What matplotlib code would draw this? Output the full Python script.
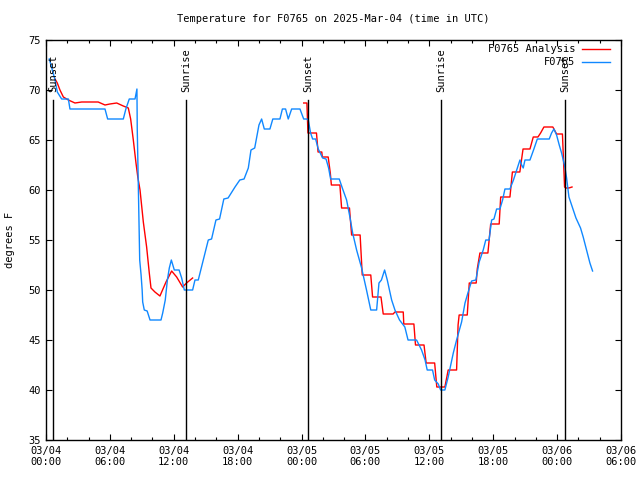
import matplotlib
matplotlib.use("Agg")
import matplotlib.pyplot as plt
import numpy as np
from matplotlib.ticker import MultipleLocator

# hours since 2025-03-04 00:00 UTC, temperature in F
obs_hours = [0.31, 0.85, 1.06, 1.47, 2.10, 2.25, 5.54, 5.79, 7.26, 7.50, 7.82, 8.36, 8.54, 8.57,
             8.70, 8.80, 8.93, 9.03, 9.08, 9.23, 9.50, 9.77, 10.80, 10.96, 11.20, 11.40, 11.58,
             11.77, 12.05, 12.50, 12.74, 12.99, 13.77, 13.99, 14.30, 15.24, 15.55, 15.96, 16.30,
             16.70, 17.10, 17.75, 18.20, 18.60, 19.00, 19.25, 19.60, 20.00, 20.25, 20.50, 21.03,
             21.30, 21.97, 22.20, 22.50, 22.75, 23.07, 23.85, 24.20, 24.50, 24.63, 24.85, 25.04,
             25.32, 25.57, 25.85, 25.98, 26.30, 26.54, 26.73, 27.54, 27.86, 28.23, 28.54, 28.80,
             29.17, 29.64, 30.10, 30.50, 31.05, 31.27, 31.50, 31.80, 32.05, 32.46, 32.77, 33.20,
             33.70, 34.00, 34.80, 35.27, 35.60, 35.80, 36.30, 36.50, 36.84, 37.06, 37.46, 37.77,
             38.25, 38.56, 39.03, 39.35, 39.65, 39.97, 40.37, 40.68, 41.06, 41.30, 41.61, 41.85,
             42.07, 42.32, 42.63, 42.88, 43.10, 43.57, 43.90, 44.20, 44.51, 44.67, 44.82, 44.98,
             45.45, 45.82, 46.14, 47.26, 47.48, 47.70, 47.95, 48.20, 48.42, 48.73, 48.89, 49.11,
             49.36, 49.77, 50.20, 50.45, 50.77, 51.08, 51.33]
obs_temp = [73.1, 71.0, 69.8, 69.1, 69.1, 68.1, 68.1, 67.1, 67.1, 68.1, 69.1, 69.1, 70.1, 66.1,
            59.0, 53.0, 51.5, 50.0, 48.8, 48.0, 47.9, 47.0, 47.0, 47.7, 49.0, 51.0, 52.2,
            53.0, 52.0, 52.0, 51.2, 50.0, 50.0, 51.0, 51.0, 55.0, 55.1, 57.0, 57.1,
            59.1, 59.2, 60.3, 61.0, 61.1, 62.2, 64.0, 64.2, 66.5, 67.1, 66.1, 66.1,
            67.1, 67.1, 68.1, 68.1, 67.1, 68.1, 68.1, 67.1, 67.1, 67.0, 65.7, 65.1,
            65.1, 64.1, 63.5, 63.2, 63.1, 62.2, 61.1, 61.1, 60.1, 59.0, 57.3, 55.7,
            54.0, 52.2, 50.0, 48.0, 48.0, 50.7, 51.0, 52.0, 51.0, 49.0, 48.0, 47.0,
            46.3, 45.0, 45.0, 44.0, 43.0, 42.0, 42.0, 41.0, 40.6, 40.0, 40.0, 41.3,
            43.7, 45.0, 46.8, 48.7, 49.8, 50.9, 51.0, 52.8, 54.0, 55.0, 55.0, 57.0,
            57.1, 58.1, 58.1, 59.0, 60.1, 60.1, 61.0, 62.0, 63.0, 62.5, 62.2, 63.0,
            63.0, 64.1, 65.1, 65.1, 65.7, 66.1, 65.5, 64.5, 63.7, 62.3, 61.2, 59.3,
            58.5, 57.2, 56.2, 55.3, 54.0, 52.7, 51.9]

# analysis series (NaN marks the gap)
ana_hours = [0.85, 1.06, 1.31, 1.63, 2.10, 2.72, 3.35, 4.90, 5.54, 6.00, 6.64, 7.26, 7.73, 7.95,
             8.20, 8.45, 8.62, 8.83, 9.14, 9.45, 9.70, 9.86, 10.23, 10.70, 11.27, 11.80, 12.27,
             12.83, 13.20, 13.77, 14.0,
             24.20, 24.50, 24.60, 25.40, 25.55, 25.90, 25.95, 26.50, 26.70, 26.80, 27.60, 27.76,
             28.50, 28.70, 29.50, 29.70, 30.50, 30.67, 31.46, 31.67, 32.60, 32.77, 33.55, 33.60,
             34.55, 34.70, 35.50, 35.70, 36.50, 36.70, 37.46, 37.77, 38.56, 38.70, 38.80, 39.56,
             39.75, 40.40, 40.50, 40.75, 41.50, 41.76, 42.56, 42.70, 43.57, 43.80, 44.50, 44.80,
             45.45, 45.76, 46.20, 46.45, 46.76, 47.60, 47.95, 48.50, 48.60, 48.70, 48.80, 49.10,
             49.40]
ana_temp = [71.1, 70.7, 70.0, 69.3, 69.0, 68.7, 68.8, 68.8, 68.5, 68.6, 68.7, 68.4, 68.2, 67.1,
            65.0, 62.7, 61.3, 60.0, 56.8, 54.3, 51.7, 50.2, 49.8, 49.4, 50.8, 51.9, 51.3,
            50.3, 50.7, 51.2, np.nan,
            68.7, 68.7, 65.7, 65.7, 63.8, 63.8, 63.3, 63.3, 61.7, 60.5, 60.5, 58.2,
            58.2, 55.5, 55.5, 51.5, 51.5, 49.3, 49.3, 47.6, 47.6, 47.8, 47.8, 46.6,
            46.6, 44.5, 44.5, 42.7, 42.7, 40.3, 40.3, 42.0, 42.0, 46.5, 47.5, 47.5,
            50.7, 50.7, 52.1, 53.7, 53.7, 56.6, 56.6, 59.3, 59.3, 61.8, 61.8, 64.1,
            64.1, 65.3, 65.3, 65.7, 66.3, 66.3, 65.6, 65.6, 63.0, 60.3, 60.2, 60.2,
            60.3]

sun_hours = [0.70, 13.15, 24.65, 37.08, 48.72]
sun_labels = ["Sunset", "Sunrise", "Sunset", "Sunrise", "Sunset"]

tick_hours = [0, 6, 12, 18, 24, 30, 36, 42, 48, 54]
tick_labels = ["03/04\n00:00", "03/04\n06:00", "03/04\n12:00", "03/04\n18:00",
               "03/05\n00:00", "03/05\n06:00", "03/05\n12:00", "03/05\n18:00",
               "03/06\n00:00", "03/06\n06:00"]

plt.rcParams["font.family"] = "DejaVu Sans Mono"
plt.rcParams["font.size"] = 7.5

fig = plt.figure(figsize=(6.4, 4.8), dpi=100)
ax = fig.add_axes([46 / 640, 40 / 480, 575 / 640, 400 / 480])

red = "#ff0000"
blue = "#1088ff"

ax.plot(ana_hours, ana_temp, color=red, lw=1.0)
ax.plot(obs_hours, obs_temp, color=blue, lw=1.0)

for h, lab in zip(sun_hours, sun_labels):
    ax.plot([h, h], [35, 69], color="black", lw=1.0)
    ax.text(h, 0.87, lab, rotation=90, ha="center", va="bottom",
            transform=ax.get_xaxis_transform())

ax.set_xlim(0, 54)
ax.set_ylim(35, 75)
ax.set_xticks(tick_hours)
ax.set_xticklabels(tick_labels)
ax.xaxis.set_minor_locator(MultipleLocator(2))
ax.yaxis.set_major_locator(MultipleLocator(5))
ax.tick_params(which="both", direction="in", top=True, right=True, colors="black")
ax.tick_params(which="major", length=4, width=0.8, pad=4)
ax.tick_params(which="minor", length=2.2, width=0.8)
for s in ax.spines.values():
    s.set_linewidth(1.0)

ax.set_ylabel("degrees F")
ax.yaxis.set_label_coords(-0.054, 0.5)

fig.text(333.5 / 640, 1 - 19 / 480, "Temperature for F0765 on 2025-Mar-04 (time in UTC)",
         ha="center", va="center")

# legend drawn by hand so the labels are right-aligned like the original
tr = ax.transAxes
for y, lab, c in [(0.9775, "F0765 Analysis", red), (0.945, "F0765", blue)]:
    ax.text(0.92, y, lab, ha="right", va="center", transform=tr)
    ax.plot([0.932, 0.981], [y, y], color=c, lw=1.0, transform=tr)

fig.savefig("out.png", dpi=100)
